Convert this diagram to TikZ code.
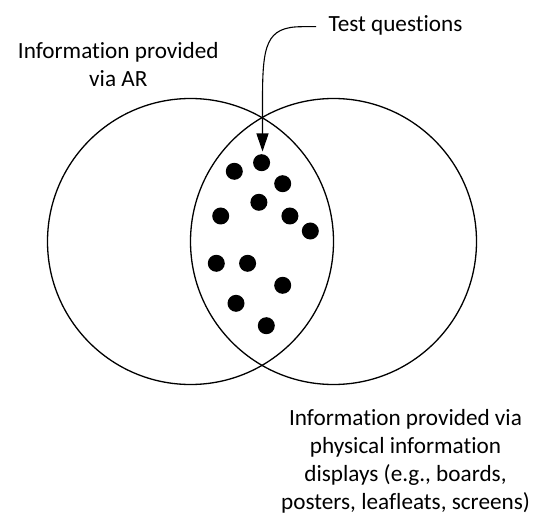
\documentclass[tikz,border=0pt]{standalone}
\usepackage{fontspec}
\setmainfont[Ligatures=NoCommon]{Carlito}
\usetikzlibrary{arrows.meta}

\begin{document}
\begin{tikzpicture}[x=1pt,y=-1pt,
	every node/.style={font=\fontsize{23.2}{28}\selectfont},
	set/.style={draw,circle,line width=1.3pt,minimum size=286pt,inner sep=0pt,outer sep=0pt},
	question/.style={fill,circle,minimum size=17pt,inner sep=0pt},
	label/.style={align=center,anchor=base}]
		\useasboundingbox (0,0) rectangle (534,518);
		% the two sets
		\node[set] (ar) at (190.5,241.5) {};
		\node[set] (phys) at (333.5,241.5) {};
		% test questions in the overlap
		\foreach \x/\y [count=\i] in {261.6/162.7, 234.3/171.3, 282.7/183.7, 258.9/202.3,
			220.7/216, 289.9/216, 310.3/231, 216.3/263.3, 247.6/263.3,
			282.7/285.3, 236/303.3, 266.3/325.7}
			\node[question] (q\i) at (\x,\y) {};
		% labels (base = last line)
		\node[label] (arlabel) at (118.3,87) {Information provided\\via AR};
		\node[label] (physlabel) at (405.5,509.3) {Information provided via\\physical information\\displays (e.g., boards,\\posters, leafleats, screens)};
		\node[anchor=base west,inner sep=0pt] (tq) at (328.3,31.7) {Test questions};
		\coordinate (tqend) at (316,26.7);
		\coordinate (tip) at (262.5,151.5);
		\draw[line width=1.1pt,-{Triangle[length=18pt,width=12pt]}] (tqend) -- ++(-14,0)
			.. controls (266,26.7) and (262.5,45) .. (262.5,100) -- (tip);
\end{tikzpicture}
\end{document}
